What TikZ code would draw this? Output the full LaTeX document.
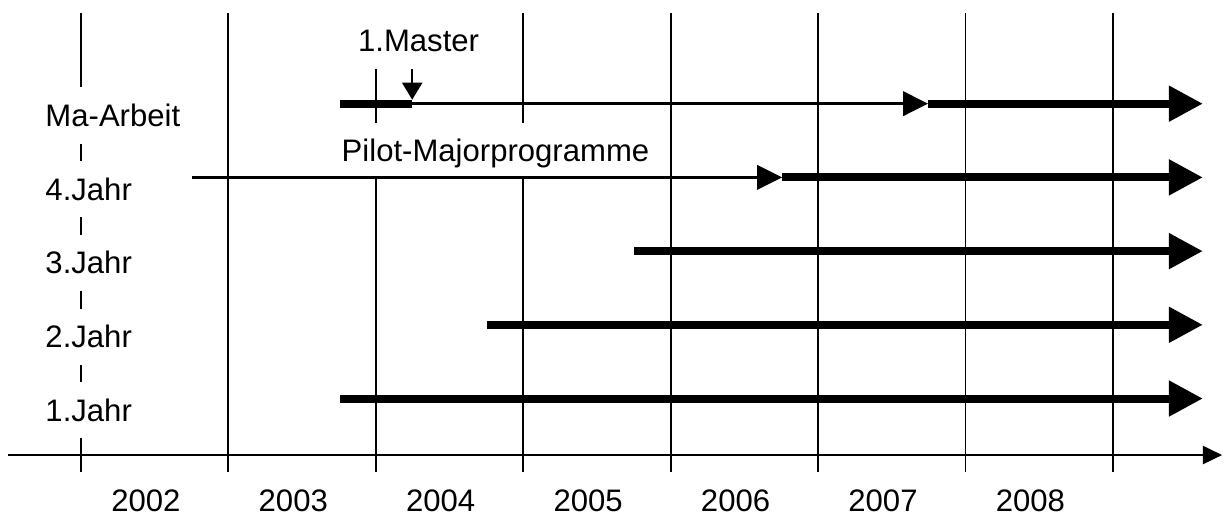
\documentclass[tikz,border=0pt]{standalone}
\usepackage{fontspec}
\setmainfont{Liberation Sans}
\usepackage{tikz}
\usetikzlibrary{arrows.meta}

\begin{document}
\begin{tikzpicture}[
  grid/.style={line width=1.1pt},
  lbl/.style={fill=white, inner xsep=2pt, inner ysep=0.254cm, text height=15.3pt, text depth=2.7pt, font=\fontsize{18}{21}\selectfont},
  yr/.style={font=\fontsize{18}{21}\selectfont},
  plan/.style={line width=2pt, -{Triangle[length=0.51cm,width=0.49cm]}},
  run/.style={line width=4.6pt, -{Triangle[length=0.69cm,width=0.69cm]}}
]
\useasboundingbox (-1.648,-1.262) rectangle (23.26,9.26);

% year lines
\draw[grid] (0,9) -- (0,-0.35);
\draw[grid] (3,9) -- (3,-0.35);
\draw[grid] (6,9) -- (6,-0.35);
\draw[grid] (9,9) -- (9,-0.35);
\draw[grid] (12,9) -- (12,-0.35);
\draw[grid] (15,9) -- (15,-0.35);
\draw[grid] (18,9) -- (18,-0.35);
\draw[grid] (21,9) -- (21,-0.35);

% labels
\node[lbl, anchor=west] (ma) at (-0.80, 6.91) {Ma-Arbeit};
\node[lbl, anchor=west] (j4) at (-0.80, 5.41) {4.Jahr};
\node[lbl, anchor=west] (j3) at (-0.80, 3.91) {3.Jahr};
\node[lbl, anchor=west] (j2) at (-0.80, 2.41) {2.Jahr};
\node[lbl, anchor=west] (j1) at (-0.80, 0.91) {1.Jahr};
\node[lbl] (master) at (6.87, 8.43) {1.Master};
\node[lbl] (pilot) at (8.435, 6.19) {Pilot-Majorprogramme};

\node[yr] (y2002) at (1.32,-0.94) {2002};
\node[yr] (y2003) at (4.32,-0.94) {2003};
\node[yr] (y2004) at (7.32,-0.94) {2004};
\node[yr] (y2005) at (10.32,-0.94) {2005};
\node[yr] (y2006) at (13.32,-0.94) {2006};
\node[yr] (y2007) at (16.32,-0.94) {2007};
\node[yr] (y2008) at (19.32,-0.94) {2008};

% bars
\coordinate (j1s) at (5.27,1.15);
\coordinate (j1e) at (22.83,1.15);
\coordinate (j2s) at (8.26,2.65);
\coordinate (j2e) at (22.83,2.65);
\coordinate (j3s) at (11.25,4.15);
\coordinate (j3e) at (22.83,4.15);
\coordinate (j4s) at (2.26,5.65);
\coordinate (j4m) at (14.27,5.65);
\coordinate (j4e) at (22.83,5.65);
\coordinate (mas) at (5.27,7.15);
\coordinate (msplit) at (6.74,7.15);
\coordinate (mtip) at (6.74,7.23);
\coordinate (mam) at (17.24,7.15);
\coordinate (mae) at (22.83,7.15);

\draw[run] (j1s) -- (j1e);
\draw[run] (j2s) -- (j2e);
\draw[run] (j3s) -- (j3e);
\draw[plan] (j4s) -- (j4m);
\draw[run] (j4m) -- (j4e);
\draw[line width=4.6pt] (mas) -- (msplit);
\draw[plan] (msplit) -- (mam);
\draw[run] (mam) -- (mae);
\draw[line width=1.2pt, -{Triangle[length=0.35cm,width=0.41cm]}] (master.south -| mtip) -- (mtip);

% time axis
\coordinate (ax0) at (-1.49,0);
\coordinate (ax1) at (23.22,0);
\draw[line width=1pt, -{Triangle[length=0.39cm,width=0.37cm]}] (ax0) -- (ax1);
\end{tikzpicture}
\end{document}
